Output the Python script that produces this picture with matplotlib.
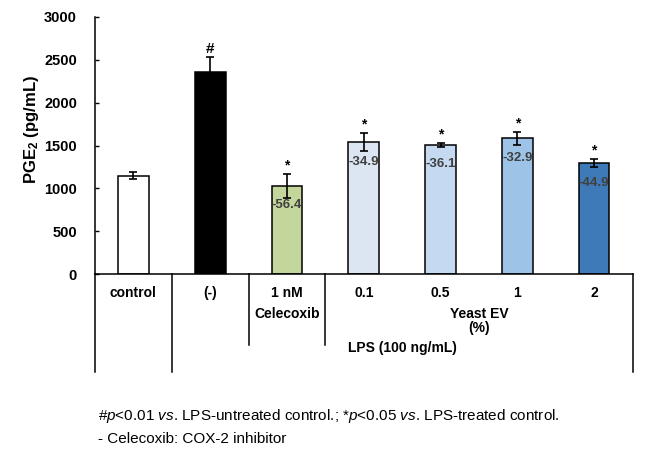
import matplotlib.pyplot as plt
import numpy as np

plt.rcParams['font.family'] = ['Liberation Sans', 'DejaVu Sans']
plt.rcParams['mathtext.fontset'] = 'custom'
plt.rcParams['mathtext.rm'] = 'Liberation Sans'
plt.rcParams['mathtext.it'] = 'Liberation Sans:italic'
plt.rcParams['mathtext.bf'] = 'Liberation Sans:bold'

groups = ['control', '(-)', '1 nM', '0.1', '0.5', '1', '2']
values = [1145, 2360, 1030, 1540, 1510, 1585, 1295]
errors = [40, 170, 140, 105, 25, 75, 50]
pct_labels = ['', '', '-56.4', '-34.9', '-36.1', '-32.9', '-44.9']
sig_marks = ['', '#', '*', '*', '*', '*', '*']
colors = ['#ffffff', '#000000', '#c3d69b', '#dce6f2', '#c5d9f1', '#9dc3e6', '#3f7ab8']

fig = plt.figure(figsize=(6.5, 4.58), dpi=100)
ax = fig.add_axes([0.1462, 0.4017, 0.8269, 0.5612])

x = np.arange(len(groups))
ax.bar(x, values, width=0.4, color=colors, edgecolor='black', linewidth=1.1, zorder=2)
ax.errorbar(x, values, yerr=errors, fmt='none', ecolor='black', elinewidth=1.2,
            capsize=3, capthick=1.2, zorder=3)

# percent change labels inside the bars
for xi, v, lab in zip(x, values, pct_labels):
    if lab:
        ax.annotate(lab, xy=(xi, v), xytext=(0, -14), textcoords='offset points',
                    ha='center', va='center', fontsize=9.5, fontweight='bold', color='#404040', zorder=4)

# significance marks
for xi, v, e, m in zip(x, values, errors, sig_marks):
    if m == '#':
        ax.annotate(m, xy=(xi, v + e), xytext=(0, 1), textcoords='offset points',
                    ha='center', va='bottom', fontsize=11, fontweight='bold')
    elif m:
        ax.annotate(m, xy=(xi, v + e), xytext=(0, 1), textcoords='offset points',
                    ha='center', va='bottom', fontsize=10, fontweight='bold')

ax.set_xlim(-0.5, 6.5)
ax.set_ylim(0, 3000)
ax.set_yticks(range(0, 3001, 500))
ax.set_xticks([])
ax.tick_params(axis='y', labelsize=10.5, length=3, width=1, direction='in', pad=13)
for t in ax.get_yticklabels():
    t.set_fontweight('bold')
ax.spines['top'].set_visible(False)
ax.spines['right'].set_visible(False)
ax.spines['left'].set_linewidth(1.1)
ax.spines['bottom'].set_linewidth(1.1)
ax.set_ylabel('PGE$_\\mathbf{2}$ (pg/mL)', fontsize=12, fontweight='bold')
ax.yaxis.set_label_coords(-0.10, 0.564)

# table underneath the axis (units: pixels below the axis line)
trans = ax.get_xaxis_transform()
px = 1 / 257

def vline(xv, depth):
    ax.plot([xv, xv], [0, -depth * px], color='black', lw=1.1, transform=trans, clip_on=False)

vline(-0.5, 98)
vline(0.5, 98)
vline(1.5, 71)
vline(2.5, 71)
vline(6.5, 98)

for xi, g in zip(x, groups):
    ax.text(xi, -19 * px, g, transform=trans, ha='center', va='center',
            fontsize=10, fontweight='bold')
ax.text(2, -40 * px, 'Celecoxib', transform=trans, ha='center', va='center',
        fontsize=10, fontweight='bold')
ax.text(4.5, -40 * px, 'Yeast EV', transform=trans, ha='center', va='center',
        fontsize=10, fontweight='bold')
ax.text(4.5, -54 * px, '(%)', transform=trans, ha='center', va='center',
        fontsize=10, fontweight='bold')
ax.text(3.5, -74 * px, 'LPS (100 ng/mL)', transform=trans, ha='center', va='center',
        fontsize=10, fontweight='bold')

# footnotes
fig.text(98 / 650, 1 - 416 / 458, '#$p$<0.01 $vs$. LPS-untreated control.; *$p$<0.05 $vs$. LPS-treated control.',
         ha='left', va='center', fontsize=11)
fig.text(98 / 650, 1 - 439 / 458, '- Celecoxib: COX-2 inhibitor', ha='left', va='center', fontsize=11)

plt.savefig('out.png', dpi=100)
